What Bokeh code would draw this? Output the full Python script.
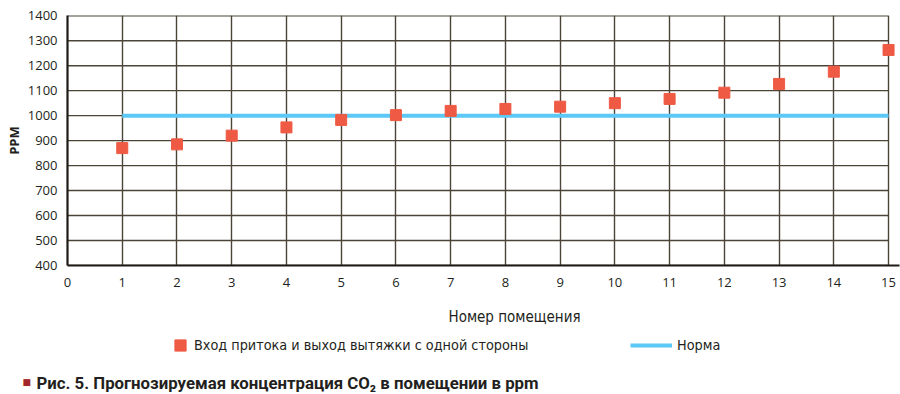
from bokeh.plotting import figure
from bokeh.layouts import column
from bokeh.models import FixedTicker, Range1d, Label, Legend, LegendItem
from bokeh.embed import file_html
from bokeh.resources import INLINE

rooms = list(range(1, 16))
ppm = [870, 885, 920, 953, 983, 1002, 1019, 1027, 1036, 1050, 1067, 1092, 1127, 1176, 1263]
norm_x = [1, 15]
norm_y = [1000, 1000]
x_ticks = list(range(0, 16))
y_ticks = list(range(400, 1401, 100))

series_label = "Вход притока и выход вытяжки с одной стороны"
norm_label = "Норма"
x_title = "Номер помещения"
y_title = "PPM"
caption = "Рис. 5. Прогнозируемая концентрация CO₂ в помещении в ppm"

GRID = "#4d4438"
RED = "#ef5a44"
BLUE = "#5bc8f5"
TXT = "#231f20"
NARROW = "'Liberation Sans Narrow', 'DejaVu Sans Condensed', 'Open Sans'"

W = 900
H1 = 300
H2 = 94

# ---------------- main chart ----------------
p = figure(width=W, height=H1, output_backend="svg", toolbar_location=None,
           x_range=Range1d(0, 15.2), y_range=Range1d(400, 1401),
           min_border_left=67, min_border_right=1, min_border_top=15, min_border_bottom=35)
p.outline_line_color = None

p.ygrid.visible = False
p.segment(x0=[x_ticks[0]] * len(y_ticks), x1=[x_ticks[-1]] * len(y_ticks),
          y0=y_ticks, y1=y_ticks, line_color=GRID, line_width=1.4)
p.xgrid.ticker = FixedTicker(ticks=x_ticks)
p.xgrid.grid_line_color = GRID
p.xgrid.grid_line_width = 1.4

p.xaxis.ticker = FixedTicker(ticks=x_ticks)
p.yaxis.ticker = FixedTicker(ticks=y_ticks)
for ax in (p.xaxis[0], p.yaxis[0]):
    ax.axis_line_color = "#1e1a16"
    ax.axis_line_width = 2.2
    ax.major_tick_line_color = None
    ax.minor_tick_line_color = None
    ax.major_label_text_font = "Open Sans"
    ax.major_label_text_font_size = "13px"
    ax.major_label_text_color = TXT
p.xaxis.major_label_standoff = 6
p.yaxis.major_label_standoff = 4
p.yaxis.axis_label = y_title
p.yaxis.axis_label_text_font = "Open Sans"
p.yaxis.axis_label_text_font_style = "bold"
p.yaxis.axis_label_text_font_size = "13px"
p.yaxis.axis_label_text_color = TXT
p.yaxis.axis_label_standoff = 2

p.line(norm_x, norm_y, line_color=BLUE, line_width=4)
p.scatter(rooms, ppm, marker="square", size=11, fill_color=RED, line_color=RED)

# ---------------- legend + captions ----------------
q = figure(width=W, height=H2, output_backend="svg", toolbar_location=None,
           x_range=Range1d(0, W), y_range=Range1d(0, H2),
           x_axis_location=None, y_axis_location=None,
           min_border_left=0, min_border_right=0, min_border_top=0, min_border_bottom=0)
q.frame_align = False
q.grid.visible = False
q.outline_line_color = None

# legend proxies (hidden renderers that reuse the series data)
sq = q.scatter(rooms, ppm, marker="square", size=11, fill_color=RED, line_color=RED, visible=False)
ln = q.line(norm_x, norm_y, line_color=BLUE, line_width=4, visible=False)

common = dict(orientation="horizontal", padding=0, margin=0, spacing=0,
              border_line_color=None, background_fill_alpha=0,
              inactive_fill_alpha=0,
              label_text_font=NARROW, label_text_font_size="14.3px",
              label_text_color=TXT, glyph_height=28)
q.add_layout(Legend(items=[LegendItem(label=series_label, renderers=[sq])],
                    location=(166, 35), glyph_width=28, label_standoff=0, **common), "center")
q.add_layout(Legend(items=[LegendItem(label=norm_label, renderers=[ln])],
                    location=(630, 35), glyph_width=42, label_standoff=5, **common), "center")

q.add_layout(Label(x=514, y=78, text=x_title, text_align="center", text_baseline="middle",
                   text_font=NARROW, text_font_size="15px", text_color=TXT))
q.add_layout(Label(x=22, y=13, text="■", text_align="left", text_baseline="middle",
                   text_font="DejaVu Sans", text_font_size="9px", text_color="#a3262a"))
q.add_layout(Label(x=36, y=12, text=caption, text_align="left", text_baseline="middle",
                   text_font="Roboto", text_font_style="bold", text_font_size="16.8px",
                   text_color=TXT))

layout = column(p, q, spacing=0)
open("out.html", "w").write(file_html(layout, INLINE))
